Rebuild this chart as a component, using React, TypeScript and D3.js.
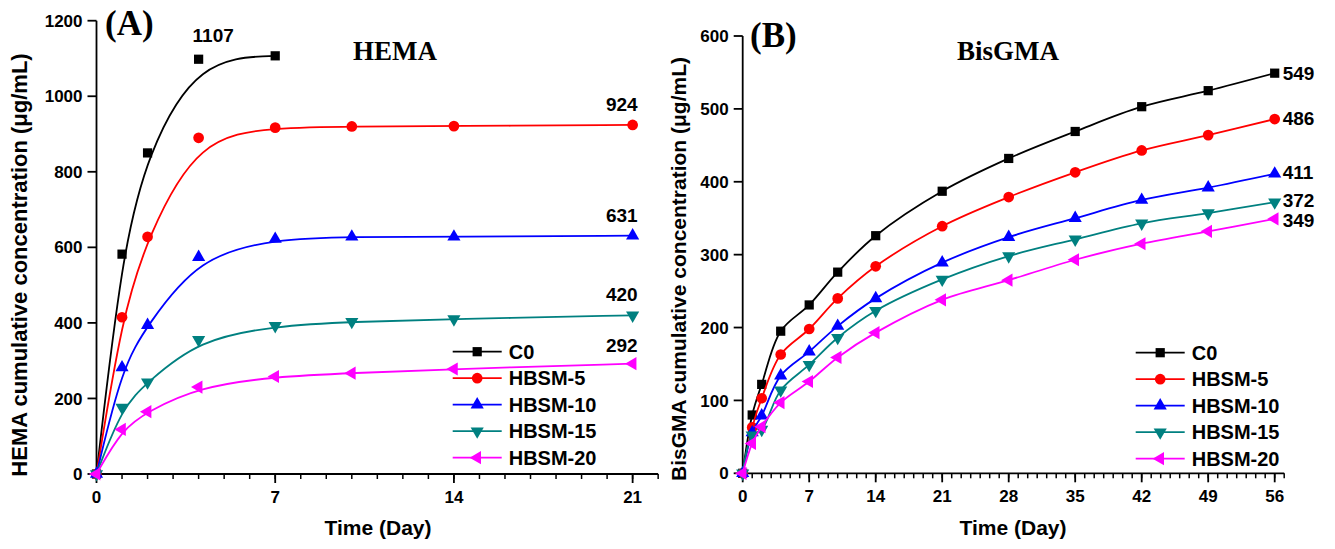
import React from "react";
import * as d3 from "d3";

const W = 1335;
const H = 549;

// series info shared by both panels
const seriesNames = ["C0", "HBSM-5", "HBSM-10", "HBSM-15", "HBSM-20"];
const seriesColors = ["#000000", "#FF0000", "#0000FF", "#008080", "#FF00FF"];
const seriesShapes = ["square", "circle", "up", "down", "left"];

// (A) HEMA
const hemaDays = [0, 1, 2, 4, 7, 10, 14, 21];
const hemaC0 = [0, 582, 850, 1098, 1107];
const hemaH5 = [0, 415, 628, 890, 917, 920, 921, 924];
const hemaH10 = [0, 282, 394, 574, 622, 628, 628, 631];
const hemaH15 = [0, 176, 243, 355, 392, 403, 410, 420];
const hemaH20 = [0, 118, 165, 230, 258, 267, 278, 292];
const hemaXTicks = [0, 7, 14, 21];
const hemaYTicks = [0, 200, 400, 600, 800, 1000, 1200];

// (B) BisGMA
const bisDays = [0, 1, 2, 4, 7, 10, 14, 21, 28, 35, 42, 49, 56];
const bisC0 = [0, 80, 122, 195, 231, 276, 326, 387, 432, 469, 503, 525, 549];
const bisH5 = [0, 63, 103, 163, 198, 240, 284, 339, 379, 413, 443, 464, 486];
const bisH10 = [0, 56, 79, 134, 167, 202, 240, 289, 324, 350, 375, 392, 411];
const bisH15 = [0, 52, 60, 114, 149, 186, 223, 266, 298, 321, 343, 357, 372];
const bisH20 = [0, 41, 64, 97, 126, 159, 193, 238, 265, 293, 315, 332, 349];
const bisXTicks = [0, 7, 14, 21, 28, 35, 42, 49, 56];
const bisYTicks = [0, 100, 200, 300, 400, 500, 600];

const SANS = "'Liberation Sans', Arial, sans-serif";
const SERIF = "'Liberation Serif', 'Times New Roman', serif";

const Marker = ({ shape, color, x, y }) => {
  let d;
  let rot = 0;
  if (shape === "square") d = d3.symbol(d3.symbolSquare, 85)();
  else if (shape === "circle") d = d3.symbol(d3.symbolCircle, 90)();
  else {
    d = d3.symbol(d3.symbolTriangle, 75)();
    if (shape === "down") rot = 180;
    if (shape === "left") rot = -90;
  }
  return <path d={d} fill={color} transform={`translate(${x},${y}) rotate(${rot})`} />;
};

const Panel = ({ cfg }) => {
  const x = d3.scaleLinear().domain([0, cfg.xMax]).range(cfg.xRange);
  const y = d3.scaleLinear().domain([0, cfg.yMax]).range(cfg.yRange);
  const line = d3
    .line()
    .x((d) => x(d[0]))
    .y((d) => y(d[1]))
    .curve(cfg.curve);
  const minor = d3.range(0, cfg.xMax + 1);
  const y0 = y(0);
  const x0 = x(0);

  return (
    <g>
      {/* axes */}
      <line x1={x0} x2={x(cfg.xMax)} y1={y0} y2={y0} stroke="#000" strokeWidth={1.8} />
      <line x1={x0} x2={x0} y1={y0} y2={y(cfg.yMax)} stroke="#000" strokeWidth={1.8} />
      {minor.map((t) => (
        <line key={"m" + t} x1={x(t)} x2={x(t)} y1={y0} y2={y0 + 5} stroke="#000" strokeWidth={1.5} />
      ))}
      {cfg.xTicks.map((t) => (
        <g key={"x" + t}>
          <line x1={x(t)} x2={x(t)} y1={y0} y2={y0 + 9} stroke="#000" strokeWidth={1.8} />
          <text x={x(t)} y={y0 + 29} textAnchor="middle" fontFamily={SANS} fontWeight="bold" fontSize={17}>
            {t}
          </text>
        </g>
      ))}
      {cfg.yTicks.map((t) => (
        <g key={"y" + t}>
          <line x1={x0 - 9} x2={x0} y1={y(t)} y2={y(t)} stroke="#000" strokeWidth={1.8} />
          <text x={x0 - 14} y={y(t)} dy="0.36em" textAnchor="end" fontFamily={SANS} fontWeight="bold" fontSize={17}>
            {t}
          </text>
        </g>
      ))}
      <text
        transform={`translate(${cfg.yLabelX},${cfg.yLabelY}) rotate(-90)`}
        textAnchor="middle"
        fontFamily={SANS}
        fontWeight="bold"
        fontSize={cfg.yLabelSize}
      >
        {cfg.yLabel}
      </text>
      <text x={cfg.xLabelX} y={535} textAnchor="middle" fontFamily={SANS} fontWeight="bold" fontSize={21}>
        Time (Day)
      </text>
      <text x={cfg.tagX} y={cfg.tagY} fontFamily={SERIF} fontWeight="bold" fontSize={35}>
        {cfg.tag}
      </text>
      <text x={cfg.titleX} y={60} textAnchor="middle" fontFamily={SERIF} fontWeight="bold" fontSize={27}>
        {cfg.title}
      </text>

      {/* series */}
      {cfg.series.map((vals, i) => {
        const pts = vals.map((v, k) => [cfg.days[k], v]);
        return (
          <g key={"s" + i}>
            <path d={line(pts)} fill="none" stroke={seriesColors[i]} strokeWidth={1.8} />
            {pts.map((p, k) => (
              <Marker key={k} shape={seriesShapes[i]} color={seriesColors[i]} x={x(p[0])} y={y(p[1])} />
            ))}
          </g>
        );
      })}

      {/* end values */}
      {cfg.series.map((vals, i) => {
        const k = vals.length - 1;
        const off = cfg.labelOffsets[i];
        return (
          <text
            key={"v" + i}
            x={x(cfg.days[k]) + off[0]}
            y={y(vals[k]) + off[1]}
            textAnchor={cfg.labelAnchor[i]}
            fontFamily={SANS}
            fontWeight="bold"
            fontSize={19}
          >
            {vals[k]}
          </text>
        );
      })}

      {/* legend */}
      {seriesNames.map((n, i) => {
        const ly = cfg.legendY + i * 26.5;
        return (
          <g key={"l" + i}>
            <line x1={cfg.legendX} x2={cfg.legendX + 49} y1={ly} y2={ly} stroke={seriesColors[i]} strokeWidth={1.8} />
            <Marker shape={seriesShapes[i]} color={seriesColors[i]} x={cfg.legendX + 24.5} y={ly} />
            <text x={cfg.legendX + 56} y={ly} dy="0.36em" fontFamily={SANS} fontWeight="bold" fontSize={20}>
              {n}
            </text>
          </g>
        );
      })}
    </g>
  );
};

export default function App() {
  const hema = {
    days: hemaDays,
    series: [hemaC0, hemaH5, hemaH10, hemaH15, hemaH20],
    curve: d3.curveBasis,
    xMax: 22,
    yMax: 1200,
    xRange: [96.5, 96.5 + 22 * 25.53],
    yRange: [474, 20.7],
    xTicks: hemaXTicks,
    yTicks: hemaYTicks,
    yLabel: "HEMA cumulative concentration (\u03bcg/mL)",
    yLabelX: 27,
    yLabelY: 265,
    yLabelSize: 22,
    xLabelX: 378,
    tag: "(A)",
    tagX: 105,
    tagY: 35,
    title: "HEMA",
    titleX: 395,
    labelOffsets: [[-62, -14], [5, -14], [5, -14], [5, -14], [5, -12]],
    labelAnchor: ["middle", "end", "end", "end", "end"],
    legendX: 452.7,
    legendY: 351.7,
  };
  const bis = {
    days: bisDays,
    series: [bisC0, bisH5, bisH10, bisH15, bisH20],
    curve: d3.curveCatmullRom.alpha(0.5),
    xMax: 57,
    yMax: 600,
    xRange: [742.7, 742.7 + 57 * 9.5],
    yRange: [473.3, 36],
    xTicks: bisXTicks,
    yTicks: bisYTicks,
    yLabel: "BisGMA cumulative concentration (\u03bcg/mL)",
    yLabelX: 686,
    yLabelY: 269,
    yLabelSize: 21,
    xLabelX: 1013,
    tag: "(B)",
    tagX: 750,
    tagY: 47,
    title: "BisGMA",
    titleX: 1008,
    labelOffsets: [[8, 7], [8, 6], [8, 5], [8, 5], [8, 8]],
    labelAnchor: ["start", "start", "start", "start", "start"],
    legendX: 1135.7,
    legendY: 352.7,
  };

  return (
    <svg
      width={W}
      height={H}
      style={{ position: "absolute", left: 0, top: 0, background: "#fff" }}
    >
      <Panel cfg={hema} />
      <Panel cfg={bis} />
    </svg>
  );
}
